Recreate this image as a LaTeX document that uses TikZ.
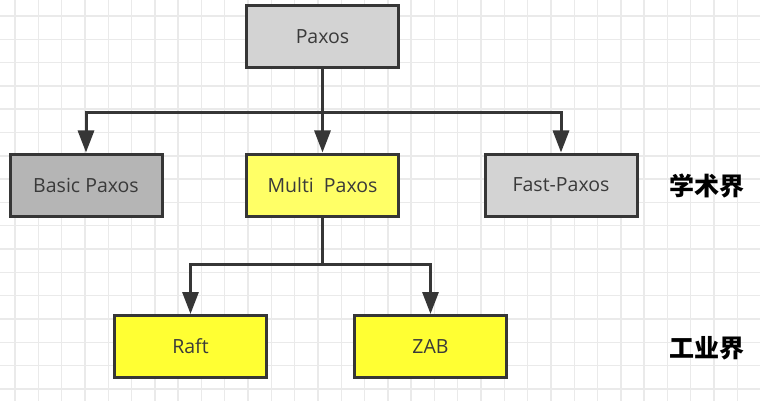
\documentclass[tikz,border=0pt]{standalone}
\usepackage{fontspec}
\setmainfont{Open Sans}
\newfontfamily\cjk{Noto Sans CJK SC}
\usetikzlibrary{arrows.meta}
\definecolor{gridc}{HTML}{EAEAEA}
\definecolor{linec}{HTML}{363636}
\definecolor{txtc}{HTML}{3A3A3A}
\definecolor{gray1}{HTML}{D3D3D3}
\definecolor{gray2}{HTML}{B5B5B5}
\definecolor{yel1}{HTML}{FFFF66}
\definecolor{yel2}{HTML}{FFFF33}
\begin{document}
\begin{tikzpicture}[x=1pt,y=-1pt,
  box/.style={draw=linec, line width=3pt, minimum width=152pt, minimum height=62pt,
    inner sep=0pt, text=txtc, font=\fontsize{19.5}{23}\selectfont},
  conn/.style={draw=linec, line width=3pt},
  arr/.style={conn, -{Triangle[length=22pt,width=16pt]}},
  lab/.style={font=\cjk\bfseries\fontsize{25}{29}\selectfont, text=black, inner sep=0pt}]
\useasboundingbox[fill=white] (0,0) rectangle (760,401);
\foreach \k in {0,...,32} \draw[gridc, line width=1.4pt] ({15+23.3*\k},0) -- ({15+23.3*\k},401);
\foreach \k in {0,...,16} \draw[gridc, line width=1.4pt] (0,{16+23.3*\k}) -- (760,{16+23.3*\k});

\node[box, fill=gray1] (paxos) at (322.5,36.5) {Paxos};
\node[box, fill=gray2] (basic) at (86,185) {Basic Paxos};
\node[box, fill=yel1] (multi) at (322.5,185) {Multi\ \ Paxos};
\node[box, fill=gray1] (fast) at (561,185) {Fast-Paxos};
\node[box, fill=yel2] (raft) at (190.5,346.5) {Raft};
\node[box, fill=yel2] (zab) at (430.5,346.5) {ZAB};
\node[lab] (acad) at (707,186) {学术界};
\node[lab] (ind) at (707,348) {工业界};

\coordinate (j1) at (322.5,113);
\coordinate (j2) at (322.5,264);
\draw[conn] (paxos.south) -- (j1);
\draw[arr] (j1) -| (basic.north);
\draw[arr] (j1) -- (multi.north);
\draw[arr] (j1) -| (fast.north);
\draw[conn] (multi.south) -- (j2);
\draw[arr] (j2) -| (raft.north);
\draw[arr] (j2) -| (zab.north);
\end{tikzpicture}
\end{document}
